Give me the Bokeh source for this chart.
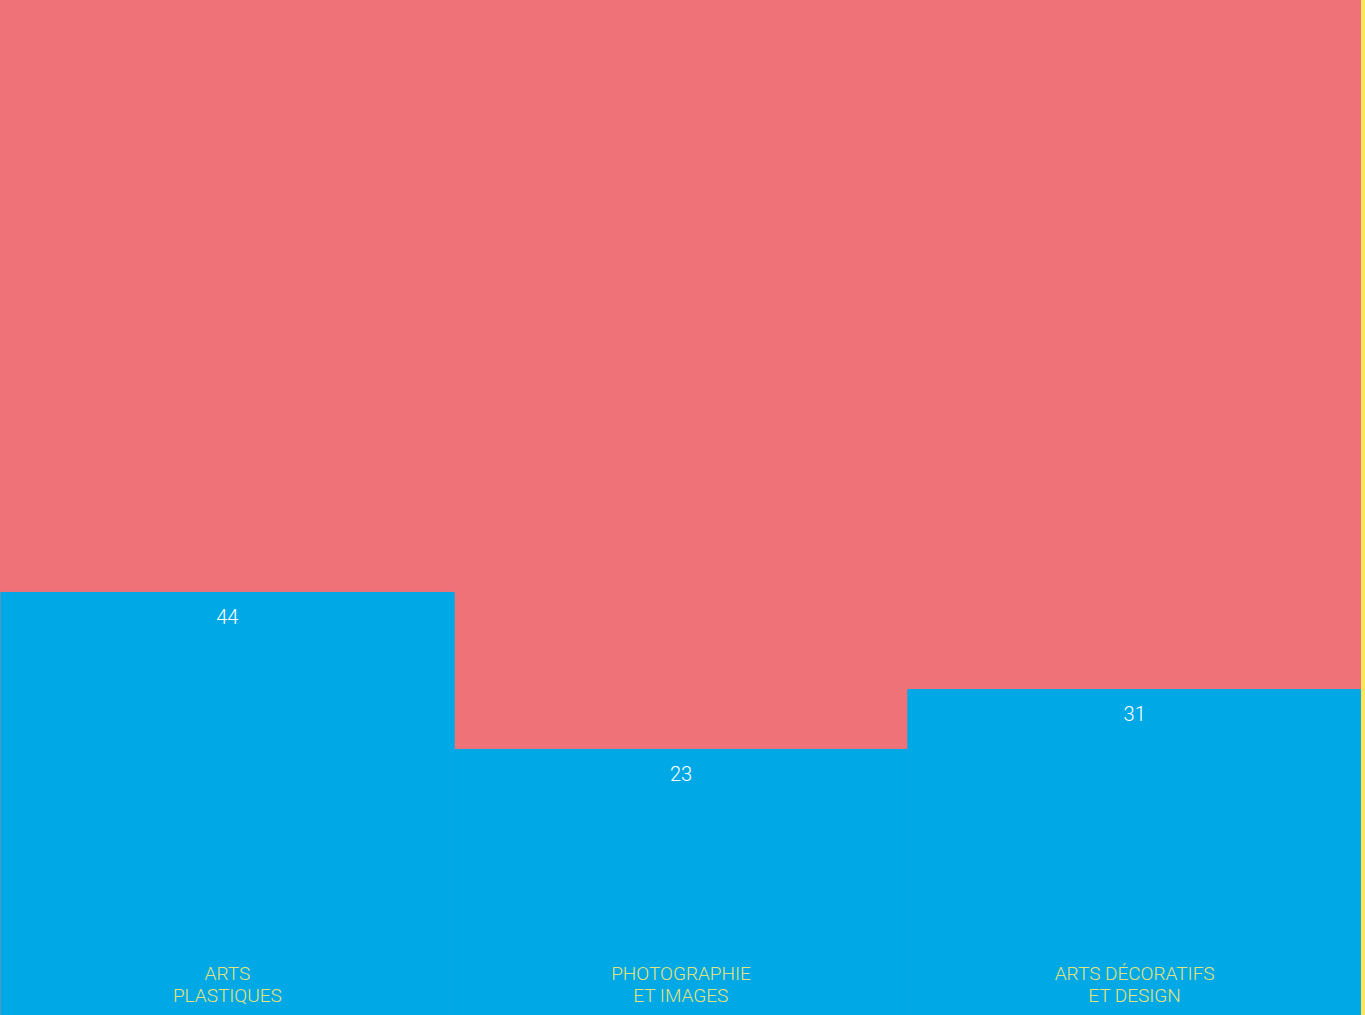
from bokeh.plotting import figure
from bokeh.models import Range1d, ColumnDataSource
from bokeh.core.properties import value
from bokeh.embed import file_html
from bokeh.resources import INLINE

# Share per discipline (percent)
line1 = ["ARTS", "PHOTOGRAPHIE", "ARTS DÉCORATIFS"]
line2 = ["PLASTIQUES", "ET IMAGES", "ET DESIGN"]
values = [44, 23, 31]

BLUE = "#00a9e6"
RED = "#ee7277"
YELLOW = "#ffe45c"
LABEL = "#e6e27a"

y_lo, y_hi = -12.6, 123.2
xs = [i + 0.5 for i in range(len(values))]

src = ColumnDataSource(dict(
    x=xs, v=values, lo=[y_lo - 2] * 3,
    txt=[str(v) for v in values],
    ty=[v - 3.2 for v in values],
    l1=line1, l2=line2,
    y1=[-6.95] * 3, y2=[-9.9] * 3,
))

p = figure(width=1361, height=1015, output_backend="svg", toolbar_location=None,
           x_range=Range1d(0, 3), y_range=Range1d(y_lo, y_hi),
           min_border_left=0, min_border_right=0, min_border_top=0, min_border_bottom=0)
p.axis.visible = False
p.grid.visible = False
p.outline_line_color = None
# remainder of each column is the plot background
p.background_fill_color = RED
p.border_fill_color = RED

p.vbar(x="x", width=1.0, bottom="lo", top="v", source=src,
       fill_color=BLUE, line_color=BLUE, line_width=1)

font = value("Roboto Light")
p.text(x="x", y="ty", text="txt", source=src, text_align="center", text_baseline="middle",
       text_color="#ffffff", text_font=font, text_font_size="20px")
p.text(x="x", y="y1", text="l1", source=src, text_align="center", text_baseline="middle",
       text_color=LABEL, text_font=font, text_font_size="19px")
p.text(x="x", y="y2", text="l2", source=src, text_align="center", text_baseline="middle",
       text_color=LABEL, text_font=font, text_font_size="19px")

html = file_html(p, INLINE)
# page background: red behind the chart, a yellow strip along the right edge
css = ("<style>html,body{margin:0;padding:0;background:linear-gradient(to right, %s calc(100%% - 4px), %s calc(100%% - 4px));}</style>"
       % (RED, YELLOW))
html = html.replace("</head>", css + "</head>", 1)
open("out.html", "w").write(html)
